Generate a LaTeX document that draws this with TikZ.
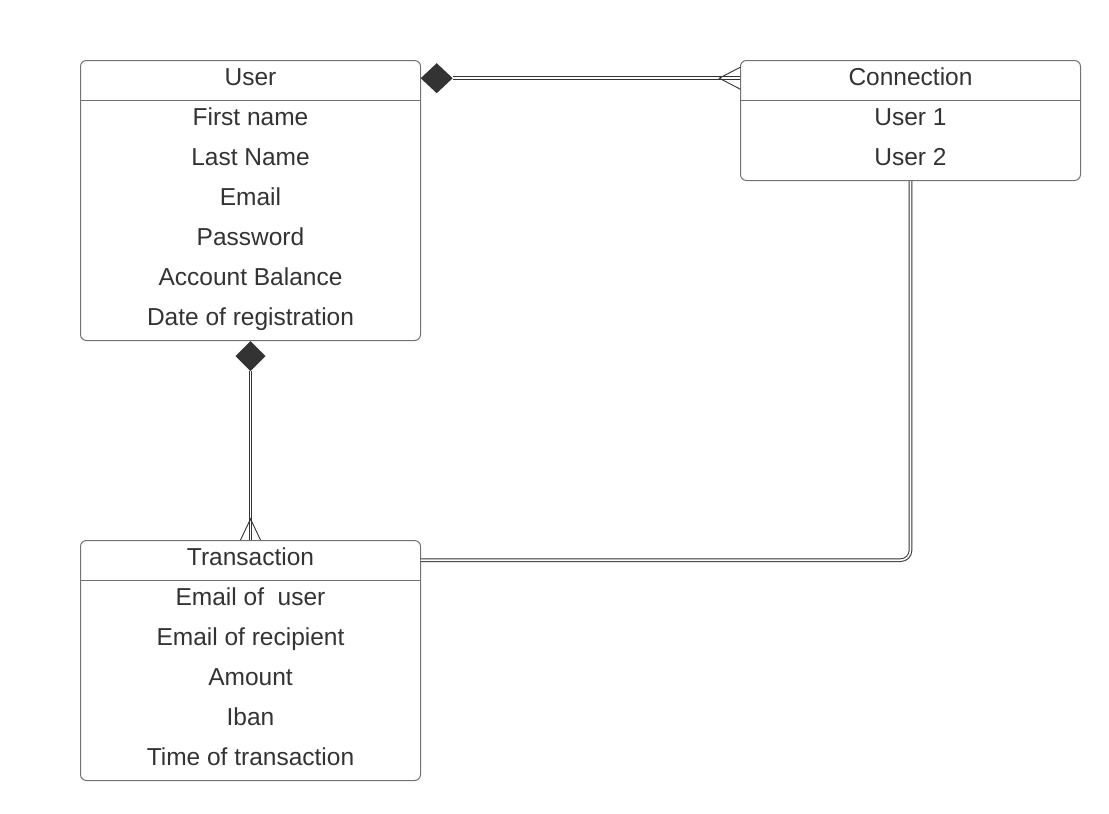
\documentclass[tikz,border=0pt]{standalone}
\usepackage{fontspec}
\setmainfont{Liberation Sans}
\usetikzlibrary{arrows.meta,positioning,calc}
\definecolor{ink}{RGB}{51,51,51}
\definecolor{edgegray}{RGB}{115,115,115}

\tikzset{
  entity/.style={draw=edgegray, line width=1pt, rounded corners=6pt, minimum width=340pt, inner sep=0pt, anchor=north west},
  head/.style={minimum width=340pt, minimum height=36pt, inner sep=0pt, anchor=north},
  field/.style={anchor=base, text=ink, inner sep=0pt, font=\fontsize{24.5}{29}\selectfont},
  link/.style={draw=ink, line width=1pt, double=white, double distance=1.6pt},
  crow/.style={draw=ink, line width=0.9pt}
}

\begin{document}
\begin{tikzpicture}[x=1pt, y=-1pt]
    \useasboundingbox (0,0) rectangle (1109,814);

    % Entities
    \node[entity, minimum height=280pt] (user) at (80,60) {};
    \node[entity, minimum height=120pt] (conn) at (740,60) {};
    \node[entity, minimum height=240pt] (trans) at (80,540) {};

    % Header parts
    \node[head] (userhead) at (user.north) {};
    \node[head] (connhead) at (conn.north) {};
    \node[head] (transhead) at (trans.north) {};
    \draw[edgegray, line width=1pt] ($(user.north west)+(0,40)$) -- ($(user.north east)+(0,40)$);
    \draw[edgegray, line width=1pt] ($(conn.north west)+(0,40)$) -- ($(conn.north east)+(0,40)$);
    \draw[edgegray, line width=1pt] ($(trans.north west)+(0,40)$) -- ($(trans.north east)+(0,40)$);

    % Titles
    \node[field] (usertitle) at ($(user.north)+(0,25)$) {User};
    \node[field] (conntitle) at ($(conn.north)+(0,25)$) {Connection};
    \node[field] (transtitle) at ($(trans.north)+(0,25)$) {Transaction};

    % Fields
    \foreach \lab [count=\i] in {First name, Last Name, Email, Password, Account Balance, Date of registration}
        \node[field] (user-\i) at ($(user.north)+(0,{25+40*\i})$) {\lab};
    \foreach \lab [count=\i] in {User 1, User 2}
        \node[field] (conn-\i) at ($(conn.north)+(0,{25+40*\i})$) {\lab};
    \foreach \lab [count=\i] in {Email of \ user, Email of recipient, Amount, Iban, Time of transaction}
        \node[field] (trans-\i) at ($(trans.north)+(0,{25+40*\i})$) {\lab};

    % User -- Connection
    \fill[ink] (userhead.east) -- ++(16,-15) -- ++(16,15) -- ++(-16,15) -- cycle;
    \coordinate (ustart) at ($(userhead.east)+(32,0)$);
    \draw[link] (ustart) -- (connhead.west);
    \coordinate (cfoot) at ($(connhead.west)+(-21,0)$);
    \draw[crow] ($(connhead.west)+(0,-11)$) -- (cfoot) -- ($(connhead.west)+(0,11)$);

    % User -- Transaction
    \fill[ink] (user.south) -- ++(15,15) -- ++(-15,15) -- ++(-15,-15) -- cycle;
    \coordinate (dstart) at ($(user.south)+(0,30)$);
    \draw[link] (dstart) -- (transhead.north);
    \coordinate (tfoot) at ($(transhead.north)+(0,-21)$);
    \draw[crow] ($(transhead.north)+(-10,0)$) -- (tfoot) -- ($(transhead.north)+(10,0)$);

    % Connection -- Transaction
    \draw[link, rounded corners=10pt] (conn.south) |- ($(transhead.east)+(0,2)$);
\end{tikzpicture}
\end{document}
